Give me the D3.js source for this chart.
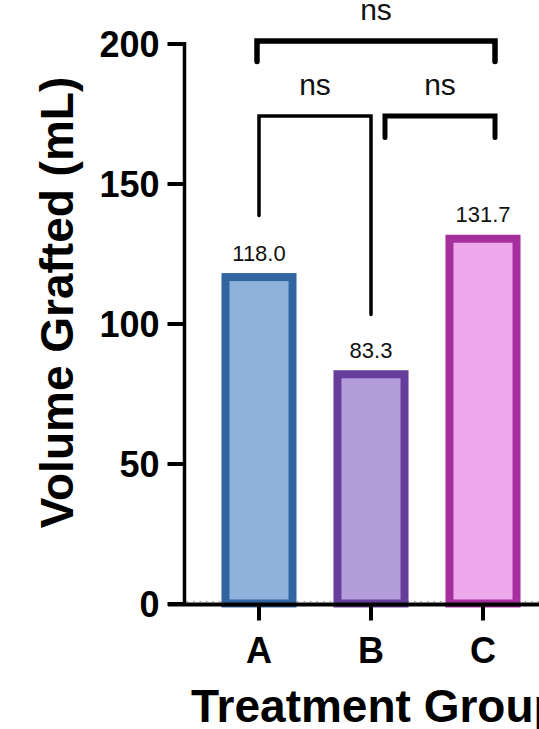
<!DOCTYPE html>
<html>
<head>
<meta charset="utf-8">
<script src="https://cdn.jsdelivr.net/npm/d3@7"></script>
<style>
  html, body { margin: 0; padding: 0; background: #fff; }
  svg { display: block; font-family: "Liberation Sans", Arial, Helvetica, sans-serif; }
</style>
</head>
<body>
<svg id="chart" width="539" height="729"></svg>
<script>
// ---- data ----
const groups = ["A", "B", "C"];
const volumes = [118.0, 83.3, 131.7];
const valueLabels = ["118.0", "83.3", "131.7"];
const yTicks = [0, 50, 100, 150, 200];

// pairwise comparisons (category pairs), their result text,
// bracket height and leg end values, all in mL
const comparisons = [["A", "C"], ["A", "B"], ["B", "C"]];
const comparisonLabels = ["ns", "ns", "ns"];
const bracketLevels = [200.9, 174.1, 174.1];
const bracketLegEnds = [[193.6, 193.6], [138.6, 103.2], [166.4, 166.4]];

// ---- styling ----
const fills = ["#8fb2dc", "#b39ddb", "#eea8ec"];
const strokes = ["#3364a2", "#663d9b", "#a5309d"];
const bracketWidths = [5.5, 3.5, 5];
const bracketNudge = [[-2, 12], [0, 0], [14, 12]];

const W = 539, H = 729;
const svg = d3.select("#chart");
svg.append("rect").attr("width", W).attr("height", H).attr("fill", "#fff");

const y = d3.scaleLinear().domain([0, 200]).range([603.5, 43.5]);
const x = d3.scaleBand().domain(groups).range([203, 539])
  .paddingInner(0.33).paddingOuter(0.165);
const bw = x.bandwidth();
const cx = g => x(g) + bw / 2;
const axisX = 184.5;
const baseY = 604.5;

// dotted zero reference line
svg.append("line")
  .attr("x1", axisX + 2).attr("x2", W)
  .attr("y1", y(0) - 2).attr("y2", y(0) - 2)
  .attr("stroke", "#999").attr("stroke-width", 1)
  .attr("stroke-dasharray", "1.5,5");

// bars
const sw = 8;
svg.append("g").selectAll("rect")
  .data(groups)
  .join("rect")
  .attr("x", g => x(g) + sw / 2)
  .attr("width", bw - sw)
  .attr("y", (g, i) => y(volumes[i]) + sw / 2)
  .attr("height", (g, i) => y(0) - y(volumes[i]) - sw / 2)
  .attr("fill", (g, i) => fills[i])
  .attr("stroke", (g, i) => strokes[i])
  .attr("stroke-width", sw);

// value labels
svg.append("g").selectAll("text")
  .data(groups)
  .join("text")
  .attr("x", g => cx(g))
  .attr("y", (g, i) => y(volumes[i]) - 12.5)
  .attr("text-anchor", "middle")
  .attr("font-size", 22)
  .attr("fill", "#111")
  .text((g, i) => valueLabels[i]);

// y axis
const yAxis = svg.append("g")
  .attr("transform", `translate(${axisX},0)`)
  .call(d3.axisLeft(y).tickValues(yTicks).tickSize(17).tickSizeOuter(0).tickPadding(8));
yAxis.select(".domain").remove();
yAxis.append("line")
  .attr("x1", 0).attr("x2", 0)
  .attr("y1", y(200) - 1.5).attr("y2", baseY + 1)
  .attr("stroke", "#000").attr("stroke-width", 3.5);
yAxis.selectAll(".tick line").attr("stroke", "#000").attr("stroke-width", 4);
yAxis.selectAll(".tick text")
  .attr("font-size", 36).attr("font-weight", "bold").attr("fill", "#000")
  .attr("font-family", "'Liberation Sans', Arial, sans-serif")
  .attr("dy", "0.36em");

// x axis
svg.append("line")
  .attr("x1", 168).attr("x2", W)
  .attr("y1", baseY).attr("y2", baseY)
  .attr("stroke", "#000").attr("stroke-width", 4);
const xAxis = svg.append("g")
  .attr("transform", `translate(0,${baseY})`)
  .call(d3.axisBottom(x).tickSize(16).tickSizeOuter(0));
xAxis.select(".domain").remove();
xAxis.selectAll(".tick line").attr("stroke", "#000").attr("stroke-width", 4);
xAxis.selectAll(".tick text")
  .attr("y", 663 - baseY).attr("dy", 0)
  .attr("font-size", 36).attr("font-weight", "bold").attr("fill", "#000")
  .attr("font-family", "'Liberation Sans', Arial, sans-serif");

// axis titles
svg.append("text")
  .attr("transform", `translate(73,302.5) rotate(-90)`)
  .attr("text-anchor", "middle")
  .attr("font-size", 46).attr("font-weight", "bold").attr("fill", "#000")
  .text("Volume Grafted (mL)");
svg.append("text")
  .attr("x", 191).attr("y", 722)
  .attr("font-size", 46).attr("font-weight", "bold").attr("fill", "#000")
  .text("Treatment Group");

// significance brackets
const br = svg.append("g");
comparisons.forEach(([a, b], i) => {
  const x1 = cx(a) + bracketNudge[i][0];
  const x2 = cx(b) + bracketNudge[i][1];
  const yl = y(bracketLevels[i]);
  const p = d3.path();
  p.moveTo(x1, y(bracketLegEnds[i][0]));
  p.lineTo(x1, yl);
  p.lineTo(x2, yl);
  p.lineTo(x2, y(bracketLegEnds[i][1]));
  br.append("path")
    .attr("d", p.toString())
    .attr("fill", "none")
    .attr("stroke", "#000")
    .attr("stroke-width", bracketWidths[i])
    .attr("stroke-linecap", "round")
    .attr("stroke-linejoin", "miter");
  br.append("text")
    .attr("x", (x1 + x2) / 2)
    .attr("y", yl - 21)
    .attr("text-anchor", "middle")
    .attr("font-size", 30)
    .attr("fill", "#111")
    .text(comparisonLabels[i]);
});
</script>
</body>
</html>
